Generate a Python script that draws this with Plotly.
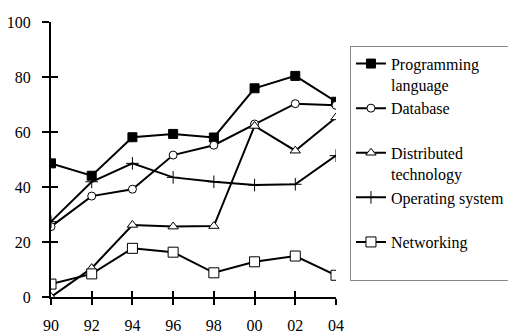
import plotly.graph_objects as go

years = ["90", "92", "94", "96", "98", "00", "02", "04"]
programming = [48.6, 44.1, 58.1, 59.3, 58.0, 75.9, 80.4, 71.0]
database = [25.6, 36.7, 39.2, 51.6, 55.2, 62.9, 70.3, 69.7]
distributed = [0.0, 10.5, 26.2, 25.6, 25.8, 62.2, 53.2, 65.3]
operating = [27.4, 41.9, 48.6, 43.5, 41.9, 40.7, 41.0, 51.4]
networking = [4.7, 8.4, 17.7, 16.3, 8.8, 12.8, 14.9, 7.9]

series = [
    ("Programming<br>language", programming, "square", "black", 9),
    ("Database<br> ", database, "circle", "white", 8),
    ("Distributed<br>technology", distributed, "triangle-up", "white", 9),
    ("Operating system<br> ", operating, "cross-thin", "black", 9),
    ("Networking<br> ", networking, "square", "white", 10),
]

xs = list(range(len(years)))
fig = go.Figure()
for name, vals, sym, fill, size in series:
    fig.add_trace(go.Scatter(
        x=xs, y=vals, name=name, mode="lines+markers",
        line=dict(color="black", width=2),
        marker=dict(symbol=sym, color=fill, size=size,
                    line=dict(color="black", width=1)),
    ))

# invisible trace to activate overlay axes (for crossing ticks)
fig.add_trace(go.Scatter(x=[0], y=[0], xaxis="x2", yaxis="y2", mode="markers",
                         marker=dict(opacity=0), showlegend=False, hoverinfo="skip"))

serif = "Liberation Serif"
# page body has an 8px margin, so the figure is sized/offset to compensate
fig.update_layout(
    width=508, height=326,
    margin=dict(l=43, r=180, t=14, b=37, autoexpand=False),
    paper_bgcolor="white", plot_bgcolor="white",
    font=dict(family=serif, size=16, color="black"),
    showlegend=True,
    legend=dict(
        x=1.049, y=0.914, xanchor="left", yanchor="top",
        bordercolor="#888888", borderwidth=1, bgcolor="white",
        font=dict(family=serif, size=16, color="black"),
        valign="top", itemwidth=30, tracegroupgap=0,
    ),
    xaxis=dict(
        range=[0, 7], tickmode="array", tickvals=xs, ticktext=years,
        showgrid=False, zeroline=False, showline=True, linecolor="black", linewidth=1.5,
        ticks="outside", ticklen=6, tickwidth=1.5, tickcolor="black",
        ticklabelstandoff=7, automargin=False,
        tickfont=dict(family=serif, size=16, color="black"),
    ),
    yaxis=dict(
        range=[0, 100], tickmode="array", tickvals=[0, 20, 40, 60, 80, 100],
        showgrid=False, zeroline=False, showline=True, linecolor="black", linewidth=2,
        ticks="outside", ticklen=7, tickwidth=2, tickcolor="black",
        ticklabelstandoff=8, automargin=False,
        tickfont=dict(family=serif, size=16, color="black"),
    ),
    xaxis2=dict(
        overlaying="x", range=[0, 7], tickmode="array", tickvals=xs,
        showticklabels=False, showgrid=False, zeroline=False, showline=False,
        ticks="inside", ticklen=6, tickwidth=1.5, tickcolor="black", side="bottom",
        automargin=False,
    ),
    yaxis2=dict(
        overlaying="y", range=[0, 100], tickmode="array", tickvals=[0, 20, 40, 60, 80, 100],
        showticklabels=False, showgrid=False, zeroline=False, showline=False,
        ticks="inside", ticklen=7, tickwidth=2, tickcolor="black", side="left",
        automargin=False,
    ),
)

fig.write_html("out.html")
